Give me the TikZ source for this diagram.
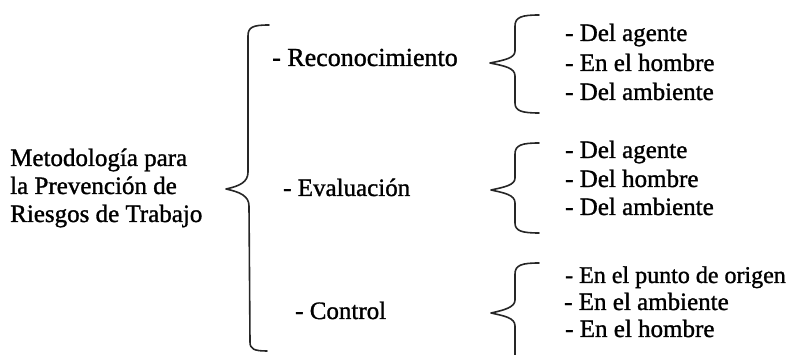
\documentclass[tikz,border=0pt]{standalone}
\usepackage{fontspec}
\setmainfont[FakeBold=1.2]{Liberation Serif}
\begin{document}
\begin{tikzpicture}[x=1pt,y=-1pt,
  txt/.style={anchor=base west,inner sep=0pt,text=black,font=\fontsize{25}{29}\selectfont},
  bracestyle/.style={draw=black!85,line width=1.6pt,line cap=round,line join=round}]
\useasboundingbox (0,0) rectangle (804,355);

% main heading, three lines
\node[txt] (m1) at (10,166) {Metodología para};
\node[txt] (m2) at (10,194) {la Prevención de};
\node[txt] (m3) at (10,222) {Riesgos de Trabajo};

% big brace
\draw[bracestyle] (269,25) .. controls (253,25) and (248,27) .. (248,36)
  -- (248,172) .. controls (248,182) and (240,186) .. (226,189)
  .. controls (240,192) and (249,196) .. (249,206)
  -- (250,342) .. controls (250,349) and (254,351) .. (267,351);

% stages
\node[txt,font=\fontsize{26}{29}\selectfont] (s1) at (272,66) {- Reconocimiento};
\node[txt] (s2) at (283,196) {- Evaluación};
\node[txt] (s3) at (295,319) {- Control};

% small braces
\draw[bracestyle] (539,15) .. controls (522,15) and (515,17) .. (515,26)
  -- (515,51) .. controls (515,58) and (505,60) .. (490,63)
  .. controls (505,66) and (515,68) .. (515,76)
  -- (515,103) .. controls (515,111) and (522,113) .. (539,113);
\draw[bracestyle] (539,143) .. controls (522,143) and (515,145) .. (515,154)
  -- (515,178) .. controls (515,185) and (505,187) .. (491,190)
  .. controls (505,193) and (515,195) .. (515,203)
  -- (515,223) .. controls (515,231) and (522,233) .. (539,233);
\draw[bracestyle] (539,263) .. controls (522,263) and (515,265) .. (515,274)
  -- (515,300) .. controls (515,307) and (505,310) .. (491,313)
  .. controls (505,316) and (515,318) .. (515,326)
  -- (515,356);

% items
\node[txt] (a1) at (565,41) {- Del agente};
\node[txt] (a2) at (565,71) {- En el hombre};
\node[txt] (a3) at (565,100) {- Del ambiente};
\node[txt] (b1) at (565,158) {- Del agente};
\node[txt] (b2) at (565,187) {- Del hombre};
\node[txt] (b3) at (565,215) {- Del ambiente};
\node[txt,font=\fontsize{24}{29}\selectfont] (c1) at (565,283) {- En el punto de origen};
\node[txt] (c2) at (564,310) {- En el ambiente};
\node[txt] (c3) at (565,337) {- En el hombre};
\end{tikzpicture}
\end{document}
